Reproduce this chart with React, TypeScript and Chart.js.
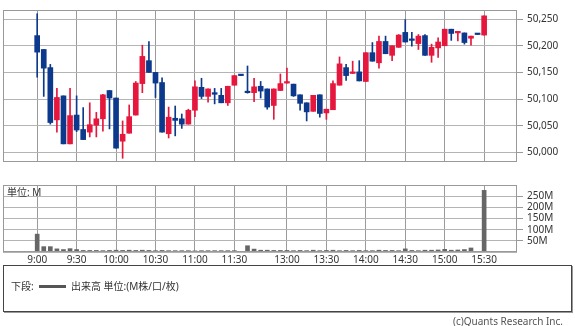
import React, { useEffect, useRef } from 'react';
import { Chart, registerables } from 'chart.js';

Chart.register(...registerables);

const FONT = "'Noto Sans', 'Noto Sans CJK JP', sans-serif";

// 5-minute bars (index positions on the time axis)
const times = [
  '9:00','9:05','9:10','9:15','9:20','9:25','9:30','9:35','9:40','9:45','9:50','9:55',
  '10:00','10:05','10:10','10:15','10:20','10:25','10:30','10:35','10:40','10:45','10:50','10:55',
  '11:00','11:05','11:10','11:15','11:20','11:25','11:30','12:25',
  '12:30','12:35','12:40','12:45','12:50','12:55',
  '13:00','13:05','13:10','13:15','13:20','13:25','13:30','13:35','13:40','13:45','13:50','13:55',
  '14:00','14:05','14:10','14:15','14:20','14:25','14:30','14:35','14:40','14:45','14:50','14:55',
  '15:00','15:05','15:10','15:15','15:20','15:25','15:30',
];

const opens = [
  50219, 50193, 50159, 50061, 50106, 50016, 50070, 50043, 50038, 50051, 50063, 50116,
  50102, 50021, 50036, 50070, 50129, 50172, 50150, 50131, 50035, 50064, 50063, 50053,
  50079, 50122, 50105, 50112, 50107, 50093, 50126, 50144,
  50112, 50112, 50124, 50119, 50088, 50116,
  50130, 50128, 50108, 50093, 50077, 50108, 50074, 50080, 50126, 50159, 50148, 50151,
  50133, 50187, 50168, 50208, 50182, 50197, 50225, 50211, 50204, 50219, 50182, 50196,
  50200, 50231, 50224, 50224, 50214, 50221, 50220,
];
const highs = [
  50260, 50193, 50165, 50120, 50106, 50120, 50106, 50084, 50093, 50075, 50109, 50116,
  50102, 50059, 50089, 50133, 50201, 50208, 50150, 50140, 50085, 50087, 50072, 50081,
  50134, 50139, 50119, 50120, 50120, 50124, 50144, 50144,
  50162, 50139, 50133, 50119, 50119, 50147,
  50158, 50128, 50108, 50093, 50107, 50108, 50081, 50134, 50179, 50165, 50171, 50172,
  50187, 50206, 50218, 50218, 50200, 50221, 50249, 50225, 50221, 50221, 50203, 50215,
  50231, 50231, 50227, 50224, 50218, 50221, 50256,
];
const lows = [
  50141, 50105, 50053, 50038, 50016, 50016, 50039, 50024, 50029, 50029, 50040, 50044,
  50008, 49989, 50036, 50070, 50112, 50150, 50103, 50038, 50027, 50031, 50045, 50053,
  50067, 50101, 50094, 50091, 50093, 50088, 50126, 50144,
  50111, 50095, 50102, 50081, 50062, 50116,
  50130, 50105, 50079, 50059, 50077, 50066, 50062, 50080, 50126, 50135, 50148, 50134,
  50133, 50171, 50158, 50185, 50172, 50197, 50207, 50199, 50193, 50182, 50169, 50178,
  50200, 50210, 50209, 50203, 50201, 50221, 50220,
];
const closes = [
  50188, 50158, 50056, 50103, 50016, 50069, 50042, 50024, 50052, 50063, 50108, 50102,
  50008, 50034, 50067, 50130, 50180, 50150, 50130, 50038, 50066, 50060, 50053, 50079,
  50123, 50105, 50119, 50109, 50093, 50124, 50144, 50144,
  50112, 50123, 50115, 50085, 50119, 50129,
  50131, 50106, 50092, 50076, 50107, 50073, 50081, 50129, 50166, 50144, 50151, 50134,
  50187, 50171, 50208, 50185, 50200, 50220, 50207, 50210, 50218, 50182, 50197, 50207,
  50231, 50223, 50227, 50206, 50218, 50221, 50256,
];

// volume, millions
const volumes = [
  80, 24, 24, 14, 11, 15, 11, 7, 7, 7, 6, 7,
  8, 7, 8, 7, 8, 7, 6, 7, 6, 6, 6, 6,
  5, 6, 6, 6, 6, 6, 6, 3,
  28, 13, 8, 8, 7, 7,
  7, 6, 7, 6, 8, 6, 7, 8, 6, 7, 6, 7,
  6, 6, 8, 7, 7, 6, 14, 7, 6, 8, 8, 9,
  12, 8, 9, 11, 18, 2, 276,
];

const tickIndex = [0, 6, 12, 18, 24, 30, 38, 44, 50, 56, 62, 68];
const tickLabels = ['9:00', '9:30', '10:00', '10:30', '11:00', '11:30', '13:00', '13:30', '14:00', '14:30', '15:00', '15:30'];

const UP = '#e6173d';
const DOWN = '#0c398c';
const X_MIN = -5.2;
const X_MAX = 73;

function boxPlugin(label?: string) {
  return {
    id: 'boxFrame',
    afterDraw(chart: any) {
      const { ctx, chartArea: a } = chart;
      ctx.save();
      ctx.strokeStyle = '#999';
      ctx.lineWidth = 1;
      const l = Math.round(a.left) + 0.5;
      const t = Math.round(a.top) + 0.5;
      const r = Math.round(a.right) - 0.5;
      const b = Math.round(a.bottom) - 0.5;
      ctx.strokeRect(l, t, r - l, b - t);
      if (label) {
        ctx.fillStyle = '#333';
        ctx.font = `10px ${FONT}`;
        ctx.textBaseline = 'middle';
        ctx.textAlign = 'left';
        ctx.fillText(label, a.left + 4, a.top + 8);
      }
      ctx.restore();
    },
  };
}

function xScale(showLabels: boolean) {
  return {
    type: 'linear',
    min: X_MIN,
    max: X_MAX,
    offset: false,
    afterBuildTicks: (s: any) => {
      s.ticks = tickIndex.map((v) => ({ value: v }));
    },
    afterFit: (s: any) => {
      s.height = showLabels ? 14 : 0;
    },
    grid: { color: '#9a9a9a', offset: false, drawTicks: false },
    border: { display: false },
    ticks: {
      display: showLabels,
      autoSkip: false,
      maxRotation: 0,
      padding: 2,
      color: '#333',
      font: { size: 10, family: FONT },
      callback: (v: any) => {
        const k = tickIndex.indexOf(Number(v));
        return k >= 0 ? tickLabels[k] : '';
      },
    },
  };
}

export default function App() {
  const topRef = useRef<HTMLCanvasElement>(null);
  const volRef = useRef<HTMLCanvasElement>(null);

  useEffect(() => {
    Chart.defaults.font.family = FONT;
    Chart.defaults.font.size = 10;
    Chart.defaults.color = '#333';

    const colors = closes.map((c, i) => (c > opens[i] ? UP : DOWN));

    const top = new Chart(topRef.current as HTMLCanvasElement, {
      type: 'bar',
      data: {
        datasets: [
          {
            data: times.map((_, i) => ({ x: i, y: [opens[i], closes[i]] })) as any,
            backgroundColor: colors,
            borderWidth: 0,
            barThickness: 5,
            minBarLength: 1.5,
            grouped: false,
          } as any,
          {
            data: times.map((_, i) => ({ x: i, y: [lows[i], highs[i]] })) as any,
            backgroundColor: colors,
            borderWidth: 0,
            barThickness: 1,
            minBarLength: 1,
            grouped: false,
          } as any,
        ],
      },
      options: {
        responsive: false,
        animation: false,
        devicePixelRatio: 1,
        layout: { padding: { left: 3, top: 1, bottom: 1, right: 0 } },
        plugins: { legend: { display: false }, tooltip: { enabled: false } },
        scales: {
          x: xScale(false) as any,
          y: {
            type: 'linear',
            position: 'right',
            min: 49982,
            max: 50267,
            beginAtZero: false,
            afterFit: (s: any) => {
              s.width = 58;
            },
            grid: { color: '#b4b4b4', tickLength: 6, tickColor: '#999' },
            border: { display: false },
            ticks: {
              stepSize: 50,
              includeBounds: false,
              autoSkip: false,
              padding: 4,
              color: '#333',
              font: { size: 10, family: FONT },
              callback: (v: any) => Number(v).toLocaleString('en-US'),
            },
          },
        },
      },
      plugins: [boxPlugin()],
    });

    const vol = new Chart(volRef.current as HTMLCanvasElement, {
      type: 'bar',
      data: {
        datasets: [
          {
            data: times.map((_, i) => ({ x: i, y: volumes[i] })) as any,
            backgroundColor: '#666',
            borderWidth: 0,
            barThickness: 4,
            grouped: false,
          } as any,
        ],
      },
      options: {
        responsive: false,
        animation: false,
        devicePixelRatio: 1,
        layout: { padding: { left: 3, top: 6, bottom: 0, right: 0 } },
        plugins: { legend: { display: false }, tooltip: { enabled: false } },
        scales: {
          x: xScale(true) as any,
          y: {
            type: 'linear',
            position: 'right',
            min: 0,
            max: 300,
            beginAtZero: true,
            afterFit: (s: any) => {
              s.width = 58;
            },
            grid: {
              color: '#b4b4b4',
              tickLength: 6,
              tickColor: (c: any) =>
                c.tick && (c.tick.value === 0 || c.tick.value === 300) ? 'rgba(0,0,0,0)' : '#999',
            },
            border: { display: false },
            ticks: {
              stepSize: 50,
              autoSkip: false,
              padding: 4,
              color: '#333',
              font: { size: 10, family: FONT },
              callback: (v: any) => (v === 0 || v === 300 ? '' : `${v}M`),
            },
          },
        },
      },
      plugins: [boxPlugin('単位: M')],
    });

    return () => {
      top.destroy();
      vol.destroy();
    };
  }, []);

  const textStyle: React.CSSProperties = {
    position: 'absolute',
    fontFamily: FONT,
    fontSize: 10,
    lineHeight: '12px',
    color: '#333',
    whiteSpace: 'nowrap',
  };

  return (
    <div style={{ position: 'absolute', left: 0, top: 0, width: 575, height: 326, background: '#fff', overflow: 'hidden' }}>
      <canvas ref={topRef} width={575} height={172} style={{ position: 'absolute', left: 0, top: 0 }} />
      <canvas ref={volRef} width={575} height={91} style={{ position: 'absolute', left: 0, top: 175 }} />
      <div
        style={{
          position: 'absolute',
          left: 3,
          top: 265,
          width: 569,
          height: 47,
          boxSizing: 'border-box',
          border: '1px solid #444',
          boxShadow: '1px 1px 0 #999',
        }}
      />
      <span style={{ ...textStyle, left: 11, top: 280 }}>下段:</span>
      <div style={{ position: 'absolute', left: 39, top: 285, width: 27, height: 2.5, background: '#555' }} />
      <span style={{ ...textStyle, left: 71, top: 280 }}>出来高 単位:(M株/口/枚)</span>
      <span style={{ ...textStyle, right: 12, top: 315, color: '#555' }}>(c)Quants Research Inc.</span>
    </div>
  );
}
